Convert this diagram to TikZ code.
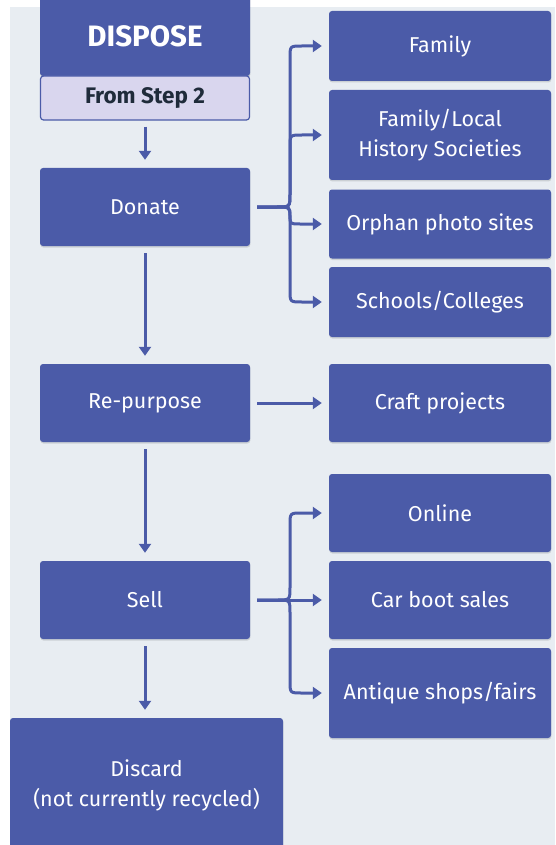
\documentclass[tikz,border=0pt]{standalone}
\usepackage{fontspec}
\setmainfont{Fira Sans}
\usetikzlibrary{arrows.meta,shadows}
\definecolor{boxblue}{HTML}{4B5BA8}
\definecolor{bgcol}{HTML}{E8EDF2}
\definecolor{lilac}{HTML}{D9D6EE}
\definecolor{darktxt}{HTML}{1F2B3A}
\tikzset{
  bbox/.style={rectangle, rounded corners=3pt, fill=boxblue, text=white, align=center,
    font=\fontsize{21.5}{30}\selectfont,
    drop shadow={shadow xshift=0.4pt, shadow yshift=-1.5pt, fill=black, opacity=0.12}},
  leftbox/.style={bbox, minimum width=210pt, minimum height=78pt},
  rightbox/.style={bbox, minimum width=222pt},
  arr/.style={draw=boxblue, line width=3pt, -{Triangle[length=9pt,width=12pt]}, shorten <=7pt, shorten >=7pt}
}
\begin{document}
\begin{tikzpicture}[x={(1pt,0)}, y={(0,-1pt)}]
\useasboundingbox (0,0) rectangle (555,845);
\clip (0,0) rectangle (555,845);
\fill[bgcol] (10,7) rectangle (555,845);
% left column
\node[bbox, minimum width=210pt, minimum height=80pt, font=\bfseries\fontsize{29.5}{32}\selectfont] (dispose) at (145,36) {DISPOSE};
\node[rectangle, rounded corners=3pt, draw=boxblue, line width=1.2pt, fill=lilac, text=darktxt,
  minimum width=209pt, minimum height=44pt, font=\bfseries\fontsize{22.5}{24}\selectfont] (step2) at (145,98) {From Step 2};
\node[leftbox] (donate) at (145,207) {Donate};
\node[leftbox] (repurpose) at (145,403) {Re-purpose};
\node[leftbox] (sell) at (145,600) {Sell};
\node[bbox, minimum width=273pt, minimum height=134pt] (discard) at (146.5,785) {Discard\\(not currently recycled)};
% right column
\node[rightbox, minimum height=70pt] (family) at (440,46) {Family};
\node[rightbox, minimum height=90pt] (fls) at (440,135) {Family/Local\\History Societies};
\node[rightbox, minimum height=69pt] (orphan) at (440,224) {Orphan photo sites};
\node[rightbox, minimum height=70pt] (schools) at (440,302) {Schools/Colleges};
\node[rightbox, minimum height=78pt] (craft) at (440,403) {Craft projects};
\node[rightbox, minimum height=78pt] (online) at (440,513) {Online};
\node[rightbox, minimum height=78pt] (carboot) at (440,600) {Car boot sales};
\node[rightbox, minimum height=90pt] (antique) at (440,693) {Antique shops/fairs};
% vertical arrows
\draw[arr, shorten <=6pt, shorten >=8pt] (step2.south) -- (donate.north);
\draw[arr, shorten >=8pt] (donate.south) -- (repurpose.north);
\draw[arr, shorten >=8pt] (repurpose.south) -- (sell.north);
\draw[arr, shorten >=8pt] (sell.south) -- (sell.south |- discard.north);
% donate brace
\draw[arr] (donate.east) -- (277,207) .. controls (290,207) .. (290,194) -- (290,58) .. controls (290,46) .. (302,46) -- (family.west);
\draw[arr] (donate.east) -- (277,207) .. controls (290,207) .. (290,194) -- (290,147) .. controls (290,135) .. (302,135) -- (fls.west);
\draw[arr] (donate.east) -- (277,207) .. controls (290,207) .. (290,216) .. controls (290,224) .. (300,224) -- (orphan.west);
\draw[arr] (donate.east) -- (277,207) .. controls (290,207) .. (290,220) -- (290,290) .. controls (290,302) .. (302,302) -- (schools.west);
% repurpose
\draw[arr] (repurpose.east) -- (craft.west);
% sell brace
\draw[arr] (sell.east) -- (277,600) .. controls (290,600) .. (290,587) -- (290,525) .. controls (290,513) .. (302,513) -- (online.west);
\draw[arr] (sell.east) -- (carboot.west);
\draw[arr] (sell.east) -- (277,600) .. controls (290,600) .. (290,613) -- (290,681) .. controls (290,693) .. (302,693) -- (antique.west);
\end{tikzpicture}
\end{document}
